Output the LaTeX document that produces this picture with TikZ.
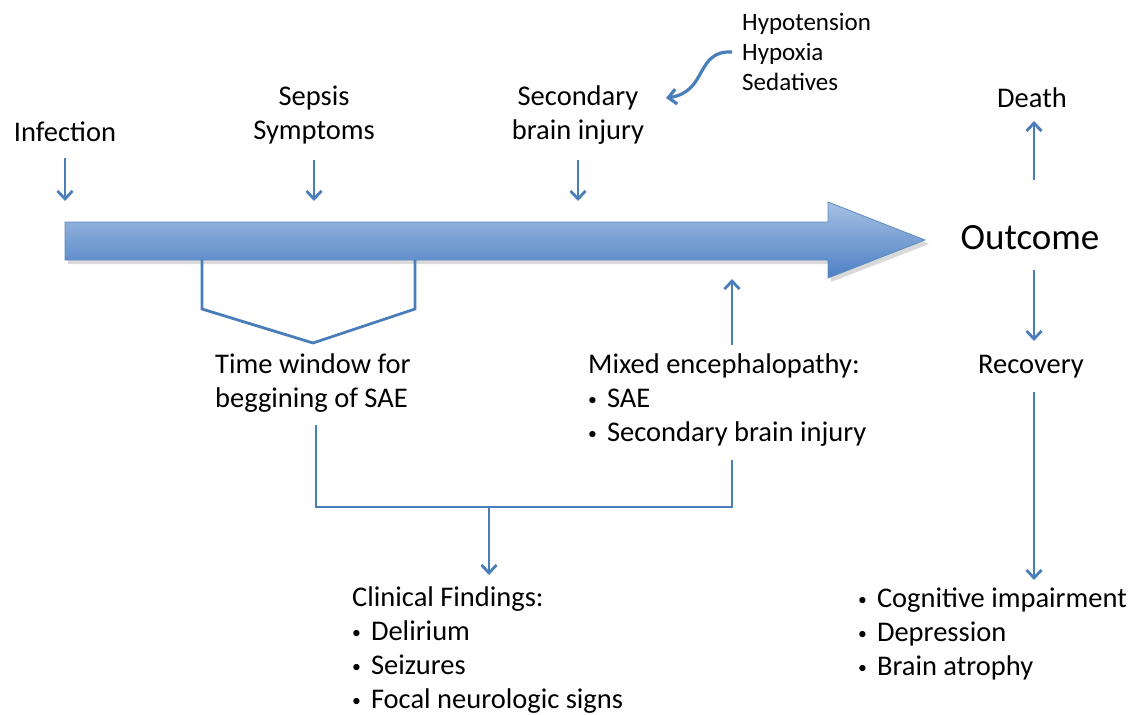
\documentclass[tikz,border=0pt]{standalone}
\usepackage{fontspec}
\setmainfont{Carlito}
\usetikzlibrary{arrows.meta}
\definecolor{lineblue}{HTML}{4A7EBB}
\definecolor{shafttop}{HTML}{A6C0E3}
\definecolor{shaftbot}{HTML}{4C80C4}
\newcommand{\bul}{\makebox[0.66em][l]{\raisebox{0.08em}{\scalebox{0.62}{•}}}}
\begin{document}
\begin{tikzpicture}[x=1pt,y=-1pt,
  txt/.style={inner sep=0pt,font=\fontsize{28.5}{34}\selectfont},
  small/.style={inner sep=0pt,font=\fontsize{25}{30}\selectfont},
  big/.style={inner sep=0pt,font=\fontsize{37}{44}\selectfont},
  conn/.style={draw=lineblue,line width=2.8pt},
  arr/.style={conn,-{Straight Barb[length=8pt,width=15pt]}}]
\useasboundingbox (0,0) rectangle (1131,714);
% big timeline arrow
\fill[black,opacity=0.15] (68,226) -- (831,226) -- (831,206) -- (929,244) -- (831,282) -- (831,264) -- (68,264) -- cycle;
\shade[top color=shafttop,bottom color=shaftbot,draw=lineblue!90,line width=0.8pt]
  (65,222) -- (828,222) -- (828,202) -- (925,240) -- (828,278) -- (828,260) -- (65,260) -- cycle;
% texts
\node[txt] (infection) at (65,132) {Infection};
\node[txt,align=center] (sepsis) at (314,115) {Sepsis\\Symptoms};
\node[txt,align=center] (sbi) at (578,115) {Secondary\\brain injury};
\node[small,align=left,anchor=west] (hyp) at (742,52) {Hypotension\\Hypoxia\\Sedatives};
\node[txt] (death) at (1032,98) {Death};
\node[big] (outcome) at (1030,238) {Outcome};
\node[txt] (recovery) at (1031,367) {Recovery};
\node[txt,align=left,anchor=west] (tw) at (215,383) {Time window for\\beggining of SAE};
\node[txt,align=left,anchor=west] (mixed) at (588,400) {Mixed encephalopathy:\\\bul SAE\\\bul Secondary brain injury};
\node[txt,align=left,anchor=west] (clin) at (352,650) {Clinical Findings:\\\bul Delirium\\\bul Seizures\\\bul Focal neurologic signs};
\node[txt,align=left,anchor=west] (seq) at (858,634) {\bul Cognitive impairment\\\bul Depression\\\bul Brain atrophy};
% coordinates
\coordinate (infA) at (65,158);  \coordinate (infB) at (65,201);
\coordinate (sepA) at (314,160); \coordinate (sepB) at (314,201);
\coordinate (sbiA) at (578,160); \coordinate (sbiB) at (578,201);
\coordinate (hypA) at (732,52);  \coordinate (hypB) at (666,98);
\coordinate (mixA) at (732,345); \coordinate (mixB) at (732,279);
\coordinate (deaA) at (1034,180); \coordinate (deaB) at (1034,121);
\coordinate (recA) at (1034,270); \coordinate (recB) at (1034,341);
\coordinate (seqA) at (1034,392); \coordinate (seqB) at (1034,580);
\coordinate (twL) at (316,425); \coordinate (mxR) at (732,460);
\coordinate (joinA) at (489,507); \coordinate (joinB) at (489,575);
\coordinate (vL) at (202,260); \coordinate (vR) at (415,260);
% connectors
\draw[arr] (infA) -- (infB);
\draw[arr] (sepA) -- (sepB);
\draw[arr] (sbiA) -- (sbiB);
\draw[arr,line width=3.2pt] (hypA) .. controls (695,50) and (708,92) .. (hypB);
\draw[conn,line join=miter] (vL) -- (202,309) -- (313,343) -- (415,309) -- (vR);
\draw[arr] (mixA) -- (mixB);
\draw[arr] (deaA) -- (deaB);
\draw[arr] (recA) -- (recB);
\draw[arr] (seqA) -- (seqB);
\draw[conn] (twL) -- (316,507) -- (732,507) -- (mxR);
\draw[arr] (joinA) -- (joinB);
\end{tikzpicture}
\end{document}
